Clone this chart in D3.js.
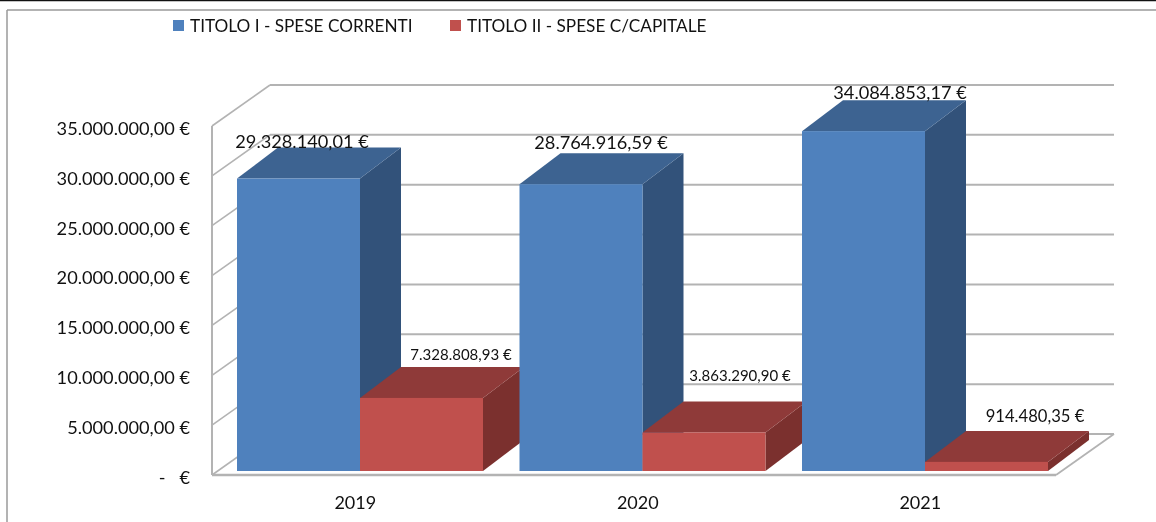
<!DOCTYPE html>
<html><head><meta charset="utf-8">
<script src="https://d3js.org/d3.v7.min.js"></script>
<style>
html,body{margin:0;padding:0;background:#fff;overflow:hidden}
svg{display:block;font-family:Lato,"Open Sans",sans-serif;filter:blur(0.35px)}
</style></head><body>
<svg id="c" width="1156" height="522"></svg>
<script>
const categories = ["2019","2020","2021"];
const seriesNames = ["TITOLO I - SPESE CORRENTI","TITOLO II - SPESE C/CAPITALE"];
const speseCorrenti = [29328140.01,28764916.59,34084853.17];
const speseCapitale = [7328808.93,3863290.90,914480.35];
const yTicks = [0,5e6,1e7,1.5e7,2e7,2.5e7,3e7,3.5e7];
const seriesFront = ["#4f81bd","#c0504d"];
const seriesTop = ["#3d6391","#8f3a39"];
const seriesSide = ["#32527a","#7b302e"];

const svg = d3.select("#c");
const depth = {x:58,y:-41};      // wall / floor depth
const barDepth = {x:41,y:-31};   // bar depth
const x0 = 212, x1 = 1056, y0 = 475, yTop = 126;
const y = d3.scaleLinear().domain([0,3.5e7]).range([y0,yTop]);
const xBand = d3.scaleBand().domain(categories).range([237,1084.5]).paddingInner(0);
const xSeries = d3.scaleBand().domain([0,1]).range([0,246]);
const barBase = -4;
const loc = d3.formatLocale({decimal:",",thousands:".",grouping:[3],currency:["","\u00a0€"]});
const money = loc.format(",.2f");
const fmt = v => v===0 ? "-   €" : money(v)+" €";
const grid = "#b3b3b3";

// frame
svg.append("line").attr("x1",0).attr("x2",1156).attr("y1",0.5).attr("y2",0.5).attr("stroke","#111").attr("stroke-width",1.5);
svg.append("line").attr("x1",7).attr("x2",1156).attr("y1",10).attr("y2",10).attr("stroke","#9a9a9a").attr("stroke-width",1.5);
svg.append("line").attr("x1",7).attr("x2",7).attr("y1",10).attr("y2",522).attr("stroke","#9a9a9a").attr("stroke-width",1.5);

// back grid + wall diagonals
svg.append("g").selectAll("line.g").data(yTicks).join("line")
  .attr("x1",x0+depth.x).attr("x2",x1+depth.x)
  .attr("y1",d=>y(d)+depth.y).attr("y2",d=>y(d)+depth.y)
  .attr("stroke",grid).attr("stroke-width",2);
svg.append("g").selectAll("line.d").data(yTicks).join("line")
  .attr("x1",x0).attr("x2",x0+depth.x)
  .attr("y1",d=>y(d)).attr("y2",d=>y(d)+depth.y)
  .attr("stroke",grid).attr("stroke-width",1.6);
// wall & floor edges
svg.append("line").attr("x1",x0).attr("x2",x0).attr("y1",y(3.5e7)).attr("y2",y0).attr("stroke",grid).attr("stroke-width",2);
svg.append("line").attr("x1",x0).attr("x2",x1).attr("y1",y0).attr("y2",y0).attr("stroke",grid).attr("stroke-width",2.5);
svg.append("line").attr("x1",x1).attr("x2",x1+depth.x).attr("y1",y0).attr("y2",y0+depth.y).attr("stroke",grid).attr("stroke-width",1.8);

// 3D bars
const bars = [];
categories.forEach((c,i)=>{
  [speseCorrenti[i],speseCapitale[i]].forEach((v,s)=>bars.push({c,s,v}));
});
const gBars = svg.append("g");
bars.forEach(b=>{
  const l = xBand(b.c)+xSeries(b.s), w = xSeries.bandwidth();
  const r = l+w, t = y(b.v)+barBase, bt = y(0)+barBase;
  const dx = barDepth.x, dy = barDepth.y;
  const g = gBars.append("g");
  g.append("path").attr("fill",seriesSide[b.s])
    .attr("d",d3.line()([[r,t],[r+dx,t+dy],[r+dx,bt+dy],[r,bt]])+"Z");
  g.append("path").attr("fill",seriesTop[b.s])
    .attr("d",d3.line()([[l,t],[l+dx,t+dy],[r+dx,t+dy],[r,t]])+"Z");
  g.append("rect").attr("x",l).attr("y",t).attr("width",w).attr("height",bt-t).attr("fill",seriesFront[b.s]);
});

// data labels
const labelDy = [[-6,-11,-7],[-12,-26,-15]];
const labelDx = [[65,81.5,98],[101,97.5,110]];
const labelSize = [[18.2,18.2,18.2],[15,15,16.6]];
const gLab = svg.append("g").attr("fill","#111");
bars.forEach(b=>{
  const i = categories.indexOf(b.c);
  const l = xBand(b.c)+xSeries(b.s);
  gLab.append("text")
    .attr("x",l+labelDx[b.s][i])
    .attr("y",y(b.v)+barBase+barDepth.y+labelDy[b.s][i])
    .attr("dy","0.35em").attr("text-anchor","middle")
    .attr("font-size",labelSize[b.s][i])
    .text(fmt(b.v));
});

// axes
const yAxis = d3.axisLeft(y).tickValues(yTicks).tickSize(0).tickPadding(0).tickFormat(fmt);
svg.append("g").attr("transform",`translate(190,2.5)`).call(yAxis)
  .call(g=>g.select(".domain").remove())
  .call(g=>g.selectAll("text").attr("font-size",18.2).attr("fill","#111").attr("font-family","Lato").style("white-space","pre"));
const xAxis = d3.axisBottom(xBand).tickSize(0).tickPadding(0);
svg.append("g").attr("transform",`translate(-23,496)`).call(xAxis)
  .call(g=>g.select(".domain").remove())
  .call(g=>g.selectAll("text").attr("font-size",18).attr("fill","#111").attr("font-family","Lato"));

// legend
const legendX = [173,450];
const leg = svg.append("g").selectAll("g").data(seriesNames).join("g")
  .attr("transform",(d,i)=>`translate(${legendX[i]},20)`);
leg.append("rect").attr("width",11).attr("height",11).attr("fill",(d,i)=>seriesFront[i]);
leg.append("text").attr("x",17).attr("y",5.5).attr("dy","0.35em").attr("font-size",17.2).attr("fill","#111").text(d=>d);
</script>
</body></html>
